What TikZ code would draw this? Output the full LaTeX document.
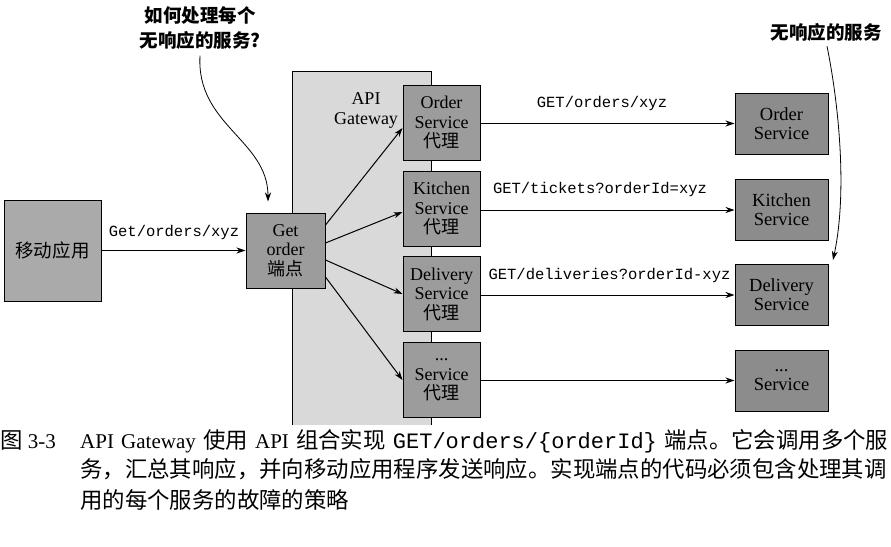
\documentclass[tikz,border=0pt]{standalone}
\usepackage{fontspec}
\setmainfont{Liberation Serif}
\setmonofont{Liberation Mono}
\newfontfamily\cjk{Noto Sans CJK SC}
\usetikzlibrary{arrows.meta,calc}
\definecolor{panelgray}{HTML}{D9D9D9}
\definecolor{boxgray}{HTML}{9C9C9C}
\definecolor{appgray}{HTML}{AAAAAA}
\definecolor{svcgray}{HTML}{8C8C8C}
\newcommand\capcjk[1]{{\cjk\fontsize{22.4}{30}\selectfont #1}}
\begin{document}
\begin{tikzpicture}[x=1pt,y=-1pt,
  box/.style={draw=black, line width=1pt, inner sep=0pt, align=center,
    font=\fontsize{18}{19.5}\selectfont},
  proxy/.style={box, fill=boxgray, minimum width=77pt, minimum height=75pt},
  svc/.style={box, fill=svcgray, minimum width=93pt, minimum height=61pt,
    font=\fontsize{18.5}{19}\selectfont},
  arr/.style={line width=1pt, -{Stealth[length=9pt,width=6pt]}},
  note/.style={line width=0.8pt, -{Stealth[length=9pt,width=6pt]}},
  lbl/.style={inner sep=0pt, font=\ttfamily\fontsize{15.5}{17}\selectfont},
  ann/.style={inner sep=0pt, align=center, font=\cjk\bfseries\fontsize{18.5}{25}\selectfont},
  captxt/.style={inner sep=0pt, anchor=base west, font=\fontsize{21}{30}\selectfont}
]
\useasboundingbox[fill=white] (0,0) rectangle (891,546);

% API Gateway panel
\node[inner sep=0pt, minimum width=138pt, minimum height=353pt] (gw) at (362,248.5) {};
\fill[panelgray] (gw.south west) rectangle (gw.north east);
\draw[line width=1pt] (gw.south west) -- (gw.north west) -- (gw.north east) -- (gw.south east);
\node[inner sep=0pt, align=center, font=\fontsize{18}{20}\selectfont] (gwl) at (366,110) {API\\Gateway};

% Mobile app
\node[box, fill=appgray, minimum width=97pt, minimum height=101pt] (app) at (52.5,250.5)
  {\cjk\fontsize{18.5}{20}\selectfont 移动应用};

% Endpoint
\node[box, fill=boxgray, minimum width=79pt, minimum height=75pt] (ep) at (285.5,250.5)
  {Get\\order\\{\cjk 端点}};

% Proxies
\node[proxy] (p1) at (441.5,122.5) {Order\\Service\\{\cjk 代理}};
\node[proxy] (p2) at (441.5,208.5) {Kitchen\\Service\\{\cjk 代理}};
\node[proxy] (p3) at (441.5,294) {Delivery\\Service\\{\cjk 代理}};
\node[proxy] (p4) at (441.5,380) {...\\Service\\{\cjk 代理}};

% Services
\node[svc] (s1) at (781.5,123.5) {Order\\Service};
\node[svc] (s2) at (781.5,210) {Kitchen\\Service};
\node[svc] (s3) at (781.5,295) {Delivery\\Service};
\node[svc] (s4) at (781.5,380.5) {...\\Service};

% Mobile -> endpoint
\draw[arr] (app.east) -- (ep.west);
\node[lbl] (l0) at (174,232) {Get/orders/xyz};

% Endpoint -> proxies
\draw[arr] ([yshift=25.5pt]ep.east) -- ([yshift=-5.5pt]p1.west);
\draw[arr] ([yshift=7.5pt]ep.east) -- ([yshift=-3.5pt]p2.west);
\draw[arr] ([yshift=-9.5pt]ep.east) -- (p3.west);
\draw[arr] ([yshift=-26.5pt]ep.east) -- (p4.west);

% Proxies -> services
\draw[arr] (p1.east |- s1.west) -- (s1.west);
\draw[arr] (p2.east |- s2.west) -- (s2.west);
\draw[arr] (p3.east |- s3.west) -- (s3.west);
\draw[arr] (p4.east |- s4.west) -- (s4.west);
\node[lbl] (l1) at (602,103) {GET/orders/xyz};
\node[lbl] (l2) at (600,189) {GET/tickets?orderId=xyz};
\node[lbl] (l3) at (609.5,275) {GET/deliveries?orderId-xyz};

% Annotations
\node[ann] (q1) at (200,28) {如何处理每个\\无响应的服务?};
\coordinate (a1) at ([xshift=-17.5pt,yshift=11pt]ep.north);
\draw[note] ([yshift=-6pt]q1.south) .. controls (196,125) and (268,140) .. (a1);
\node[ann] (q2) at (826,32) {无响应的服务};
\coordinate (a2) at ([xshift=51.5pt,yshift=4pt]s3.north);
\draw[note] ([xshift=1pt,yshift=-5pt]q2.south) .. controls (838,100) and (848,190) .. (a2);

% Caption
\node[captxt] (c0) at (0,448) {\capcjk{图} 3-3};
\node[captxt] (c1) at (80,448) {\makebox[808pt][s]{API Gateway \capcjk{使用} API \capcjk{组合实现} {\ttfamily\fontsize{22}{30}\selectfont GET/orders/\{orderId\}} \capcjk{端点。它会调用多个服}}};
\node[captxt] (c2) at (80,477) {\capcjk{务，汇总其响应，并向移动应用程序发送响应。实现端点的代码必须包含处理其调}};
\node[captxt] (c3) at (80,508) {\capcjk{用的每个服务的故障的策略}};
\end{tikzpicture}
\end{document}
